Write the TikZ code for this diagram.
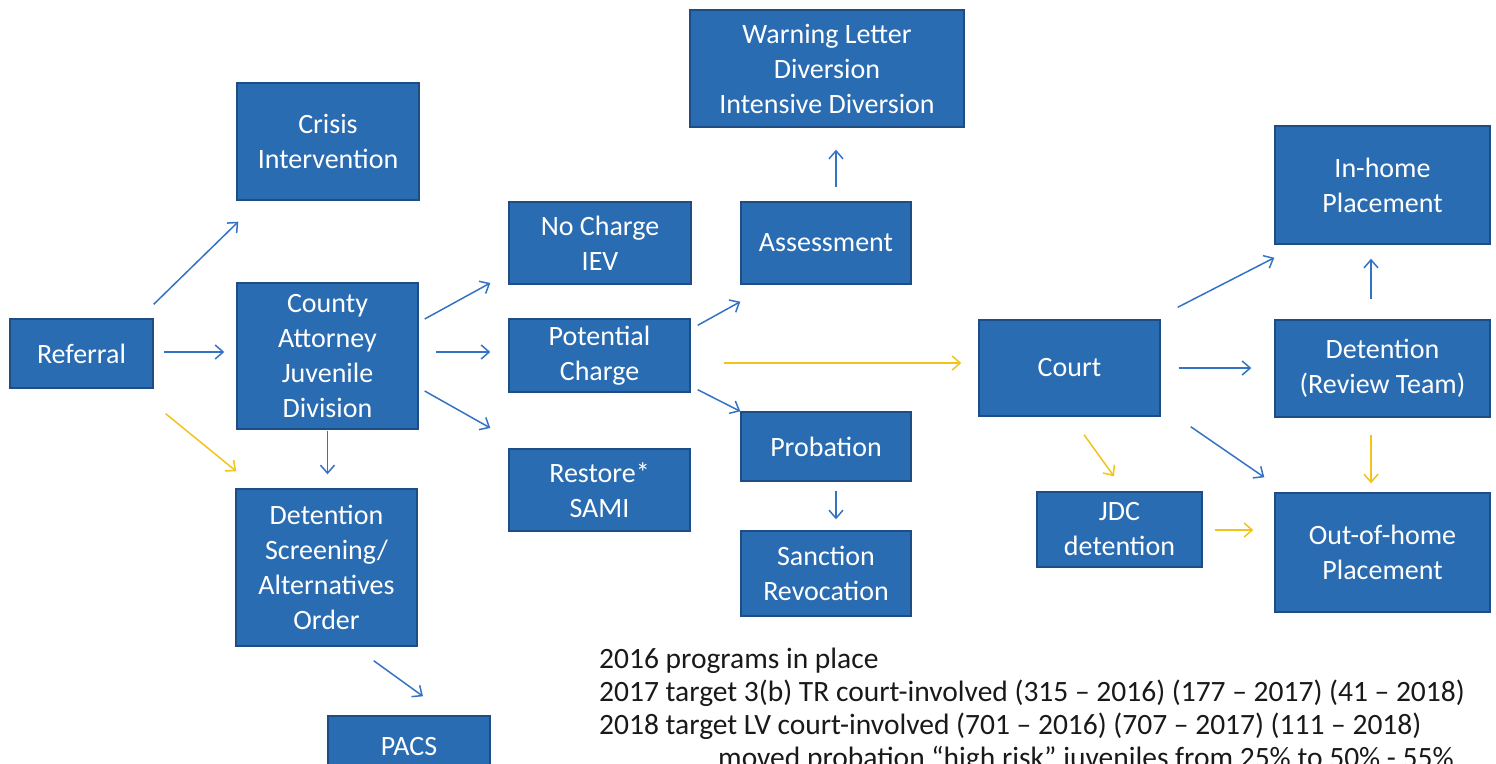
\documentclass[tikz,border=0pt]{standalone}
\usepackage{fontspec}
\setmainfont{Carlito}
\usepackage{tikz}
\usetikzlibrary{calc}
\usetikzlibrary{arrows.meta}
\usepackage{xcolor}
\definecolor{boxblue}{RGB}{42,108,178}
\definecolor{boxedge}{RGB}{30,76,132}
\definecolor{arrblue}{RGB}{52,114,196}
\definecolor{arryel}{RGB}{240,196,28}
\tikzset{
  blk/.style={draw=boxedge,line width=1.4pt,fill=boxblue,text=white,align=center,inner sep=0pt,
    font=\fontsize{28}{35}\selectfont},
  barr/.style={draw=arrblue,line width=1.5pt,-{Straight Barb[length=8pt,width=14pt]}},
  yarr/.style={draw=arryel,line width=1.5pt,-{Straight Barb[length=8pt,width=14pt]}},
  note/.style={anchor=base west,inner sep=0pt,text=black!90,font=\fontsize{29.5}{33}\selectfont}
}

\begin{document}
\begin{tikzpicture}[x=1pt,y=-1pt]
\useasboundingbox (0,0) rectangle (1496,763);
\clip (0,0) rectangle (1496,763);
\node[blk,minimum width=143,minimum height=69] (ref) at (81.5,353.5) {Referral};
\node[blk,minimum width=182,minimum height=117] (crisis) at (328,141.5) {Crisis\\Intervention};
\node[blk,minimum width=181,minimum height=146] (county) at (327.5,356) {County\\Attorney\\Juvenile\\Division};
\node[blk,minimum width=181,minimum height=157] (dscreen) at (326.5,567.5) {Detention\\Screening/\\Alternatives\\Order};
\node[blk,minimum width=162,minimum height=60] (pacs) at (409,746) {PACS};
\node[blk,minimum width=182,minimum height=82] (nocharge) at (600,243) {No Charge\\IEV};
\node[blk,minimum width=181,minimum height=73] (potential) at (599.5,355.5) {Potential\\Charge};
\node[blk,minimum width=181,minimum height=82] (restore) at (599.5,490) {Restore*\\SAMI};
\node[blk,minimum width=274,minimum height=117] (warning) at (827,68.5) {Warning Letter\\Diversion\\Intensive Diversion};
\node[blk,minimum width=170,minimum height=82] (assess) at (826,243) {Assessment};
\node[blk,minimum width=170,minimum height=69] (prob) at (826,446.5) {Probation};
\node[blk,minimum width=170,minimum height=85] (sanction) at (826,573.5) {Sanction\\Revocation};
\node[blk,minimum width=181,minimum height=96] (court) at (1069.5,368) {Court};
\node[blk,minimum width=215,minimum height=118] (inhome) at (1382.5,185) {In-home\\Placement};
\node[blk,minimum width=215,minimum height=97] (dreview) at (1382.5,368.5) {Detention\\(Review Team)};
\node[blk,minimum width=165,minimum height=75] (jdc) at (1119.5,529.5) {JDC\\detention};
\node[blk,minimum width=215,minimum height=119] (outhome) at (1382.5,552.5) {Out-of-home\\Placement};

\draw[barr] ($(ref.north east)+(0,-14)$) -- ($(crisis.south west)+(2,21)$);
\draw[barr] ($(ref.east)+(10,-1.5)$) -- ($(county.west)+(-12,-4)$);
\draw[yarr] ($(ref.south east)+(12,25)$) -- ($(dscreen.north west)+(1,-17)$);
\draw[barr,shorten <=1pt,shorten >=14pt] (county.south) -- (county.south |- dscreen.north);
\draw[barr] ($(county.east)+(6,-37)$) -- ($(nocharge.west)+(-18,40)$);
\draw[barr] ($(county.east)+(17,-4)$) -- ($(potential.west)+(-18,-3.5)$);
\draw[barr] ($(county.east)+(6,35)$) -- ($(restore.west)+(-18,-62)$);
\draw[barr] ($(dscreen.south east)+(-44,14)$) -- ($(pacs.north)+(14,-19)$);
\draw[barr] ($(potential.north east)+(7,7)$) -- ($(assess.south west)+(0,17)$);
\draw[barr] ($(potential.south east)+(7,-3)$) -- (prob.north west);
\draw[yarr] ($(potential.east)+(33,7.5)$) -- ($(court.west)+(-17,-5)$);
\draw[barr] ($(assess.north)+(10,-14)$) -- ($(warning.south)+(9,22)$);
\draw[barr] ($(prob.south)+(10,9)$) -- ($(sanction.north)+(10,-11)$);
\draw[barr] ($(court.north east)+(17,-12)$) -- ($(inhome.south west)+(0,13)$);
\draw[barr] ($(court.east)+(18,0)$) -- ($(dreview.west)+(-23,-0.5)$);
\draw[barr] ($(court.south east)+(30,10)$) -- ($(outhome.north west)+(-10,-15)$);
\draw[yarr] ($(court.south)+(14.5,18)$) -- ($(jdc.north)+(-5.5,-15)$);
\draw[barr] ($(dreview.north)+(-11.5,-20)$) -- ($(inhome.south)+(-11.5,14)$);
\draw[yarr] ($(dreview.south)+(-11.5,17)$) -- ($(outhome.north)+(-11.5,-9)$);
\draw[yarr] ($(jdc.east)+(12,0.5)$) -- ($(outhome.west)+(-21,-22.5)$);

\node[note] (line1) at (599,668) {2016 programs in place};
\node[note] (line2) at (599,701) {2017 target 3(b) TR court-involved (315 – 2016) (177 – 2017) (41 – 2018)};
\node[note] (line3) at (599,734) {2018 target LV court-involved (701 – 2016) (707 – 2017) (111 – 2018)};
\node[note] (line4) at (718,767) {moved probation “high risk” juveniles from 25\% to 50\% - 55\%};
\end{tikzpicture}
\end{document}
